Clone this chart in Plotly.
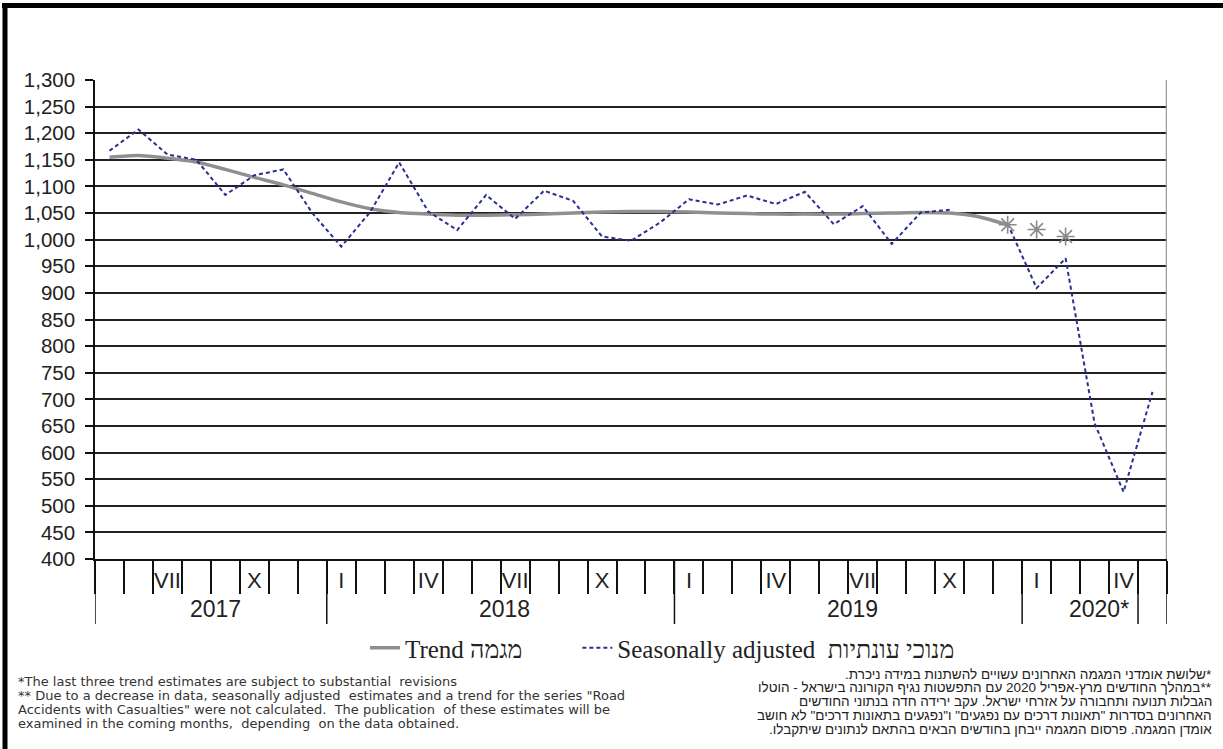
import plotly.graph_objects as go

# ---------------- data ----------------
years = [2017] * 8 + [2018] * 12 + [2019] * 12 + [2020] * 5
month_nums = list(range(5, 13)) + list(range(1, 13)) + list(range(1, 13)) + list(range(1, 6))
roman_labels = {1: "I", 4: "IV", 7: "VII", 10: "X"}
year_labels = {2017: "2017", 2018: "2018", 2019: "2019", 2020: "2020*"}

seasonally_adjusted = [
    1167, 1207, 1160, 1150, 1084, 1121, 1132, 1050,             # 2017 V-XII
    987, 1052, 1145, 1053, 1018, 1084, 1039, 1092, 1073, 1006, 998, 1032,   # 2018
    1076, 1066, 1083, 1067, 1090, 1029, 1063, 992, 1051, 1056, None, 1030,  # 2019
    909, 965, 655, 526, 714,                                      # 2020 I-V
]
trend = [
    1155, 1158, 1153, 1146, 1132, 1117, 1103, 1087,
    1071, 1058, 1051, 1048, 1046, 1046, 1047, 1048, 1050, 1052, 1053, 1053,
    1052, 1050, 1049, 1048, 1048, 1048, 1049, 1050, 1051, 1050, 1043, 1028,
    None, None, None, None, None,
]
trend_last_three = [None] * 31 + [1028, 1019, 1006] + [None] * 3

legend_trend = "Trend מגמה"
legend_sa = "Seasonally adjusted  מנוכי עונתיות"

notes_en = [
    "*The last three trend estimates are subject to substantial  revisions",
    "** Due to a decrease in data, seasonally adjusted  estimates and a trend for the series \"Road",
    "Accidents with Casualties\" were not calculated.  The publication  of these estimates will be",
    "examined in the coming months,  depending  on the data obtained.",
]
notes_he = [
    "*שלושת אומדני המגמה האחרונים עשויים להשתנות במידה ניכרת.",
    "**במהלך החודשים מרץ-אפריל 2020 עם התפשטות נגיף הקורונה בישראל - הוטלו",
    "הגבלות תנועה ותחבורה על אזרחי ישראל. עקב ירידה חדה בנתוני החודשים",
    "האחרונים בסדרות \"תאונות דרכים עם נפגעים\" ו\"נפגעים בתאונות דרכים\" לא חושב",
    "אומדן המגמה. פרסום המגמה ייבחן בחודשים הבאים בהתאם לנתונים שיתקבלו.",
]

# ---------------- layout helpers ----------------
W, H = 1223, 749
L, R, T, B = 95, 1167, 80, 559
SANS = "Liberation Sans, Arial"


def px_x(px):
    return (px - L) / (R - L)


def px_y(py):
    return (B - py) / (B - T)


x = list(range(len(month_nums)))
ticktext = [roman_labels.get(m, "") for m in month_nums]

fig = go.Figure()
fig.add_trace(go.Scatter(
    x=x, y=trend, name=legend_trend + "\u00a0" * 8, mode="lines",
    line=dict(color="#8f8f8f", width=3.5, shape="spline", smoothing=0.6),
    connectgaps=False,
))
fig.add_trace(go.Scatter(
    x=x, y=seasonally_adjusted, name=legend_sa, mode="lines",
    line=dict(color="#2b2f8f", width=2, dash="4px,3px"),
    connectgaps=False,
))
fig.add_trace(go.Scatter(
    x=x, y=trend_last_three, mode="markers", showlegend=False,
    marker=dict(symbol="asterisk-open", size=15, color="#8a8a8a",
                line=dict(color="#8a8a8a", width=1.6)),
))

shapes = []
# long ticks at year boundaries
long_ticks = [-0.5, len(x) - 0.5, 35.5]
for i in range(1, len(years)):
    if years[i] != years[i - 1]:
        long_ticks.append(i - 0.5)
for lt in long_ticks:
    shapes.append(dict(type="line", xref="x", yref="paper", x0=lt, x1=lt,
                       y0=0, y1=px_y(624), line=dict(color="#111", width=1.5)))
# right border of plot
shapes.append(dict(type="line", xref="x", yref="paper", x0=len(x) - 0.5, x1=len(x) - 0.5,
                   y0=0, y1=1, line=dict(color="#9a9a9a", width=2.5)))
# outer frame
shapes.append(dict(type="line", xref="paper", yref="paper", x0=px_x(2), x1=px_x(W + 20),
                   y0=px_y(5.5), y1=px_y(5.5), line=dict(color="#000", width=5)))
shapes.append(dict(type="line", xref="paper", yref="paper", x0=px_x(5), x1=px_x(5),
                   y0=px_y(3), y1=px_y(H + 20), line=dict(color="#000", width=5)))

annotations = []
for yr, lab in year_labels.items():
    idx = [i for i, y in enumerate(years) if y == yr]
    cx = (idx[0] + idx[-1]) / 2 + 0.15
    annotations.append(dict(x=cx, y=px_y(609), xref="x", yref="paper", text=lab,
                            showarrow=False, xanchor="center", yanchor="middle",
                            font=dict(family=SANS, size=23, color="#222")))

en_y = [681, 695, 709, 723]
for txt, yy in zip(notes_en, en_y):
    annotations.append(dict(x=px_x(16), y=px_y(yy), xref="paper", yref="paper", text=txt,
                            showarrow=False, xanchor="left", yanchor="middle",
                            font=dict(family="DejaVu Sans", size=13, color="#333")))
he_y = [674, 687.75, 701.5, 715.25, 729]
for txt, yy in zip(notes_he, he_y):
    annotations.append(dict(x=px_x(1214), y=px_y(yy), xref="paper", yref="paper",
                            text="\u200f" + txt + "\u200f",
                            showarrow=False, xanchor="right", yanchor="middle",
                            font=dict(family=SANS, size=13.5, color="#222")))

fig.update_layout(
    width=W, height=H,
    margin=dict(l=L, r=W - R, t=T, b=H - B, pad=0),
    paper_bgcolor="white", plot_bgcolor="white",
    showlegend=True,
    legend=dict(orientation="h", x=px_x(365), xanchor="left", y=px_y(648), yanchor="middle",
                font=dict(family="Liberation Serif, Times New Roman", size=25, color="#222"),
                traceorder="normal", bgcolor="rgba(0,0,0,0)"),
    shapes=shapes,
    annotations=annotations,
    xaxis=dict(
        range=[-0.5, len(x) - 0.5],
        tickmode="array", tickvals=x, ticktext=ticktext,
        ticks="outside", ticklen=1, tickcolor="rgba(0,0,0,0)",
        tickfont=dict(family=SANS, size=22, color="#222"),
        showgrid=False, zeroline=False,
        showline=True, linecolor="#111", linewidth=1.5,
        minor=dict(tick0=-0.5, dtick=1, ticks="outside", ticklen=33,
                   tickcolor="#111", tickwidth=1.5, showgrid=False),
        fixedrange=True,
    ),
    yaxis=dict(
        range=[400, 1300], dtick=50, tick0=400,
        tickformat=",d",
        ticks="outside", ticklen=8, tickcolor="#111", tickwidth=1.5,
        ticklabelstandoff=6,
        tickfont=dict(family=SANS, size=20.5, color="#222"),
        showgrid=True, gridcolor="#222", gridwidth=1.5,
        zeroline=False, showline=True, linecolor="#111", linewidth=1.5,
        fixedrange=True,
    ),
)

fig.write_html("out.html", config={"displayModeBar": False},
               post_script="document.body.style.margin='0';")
